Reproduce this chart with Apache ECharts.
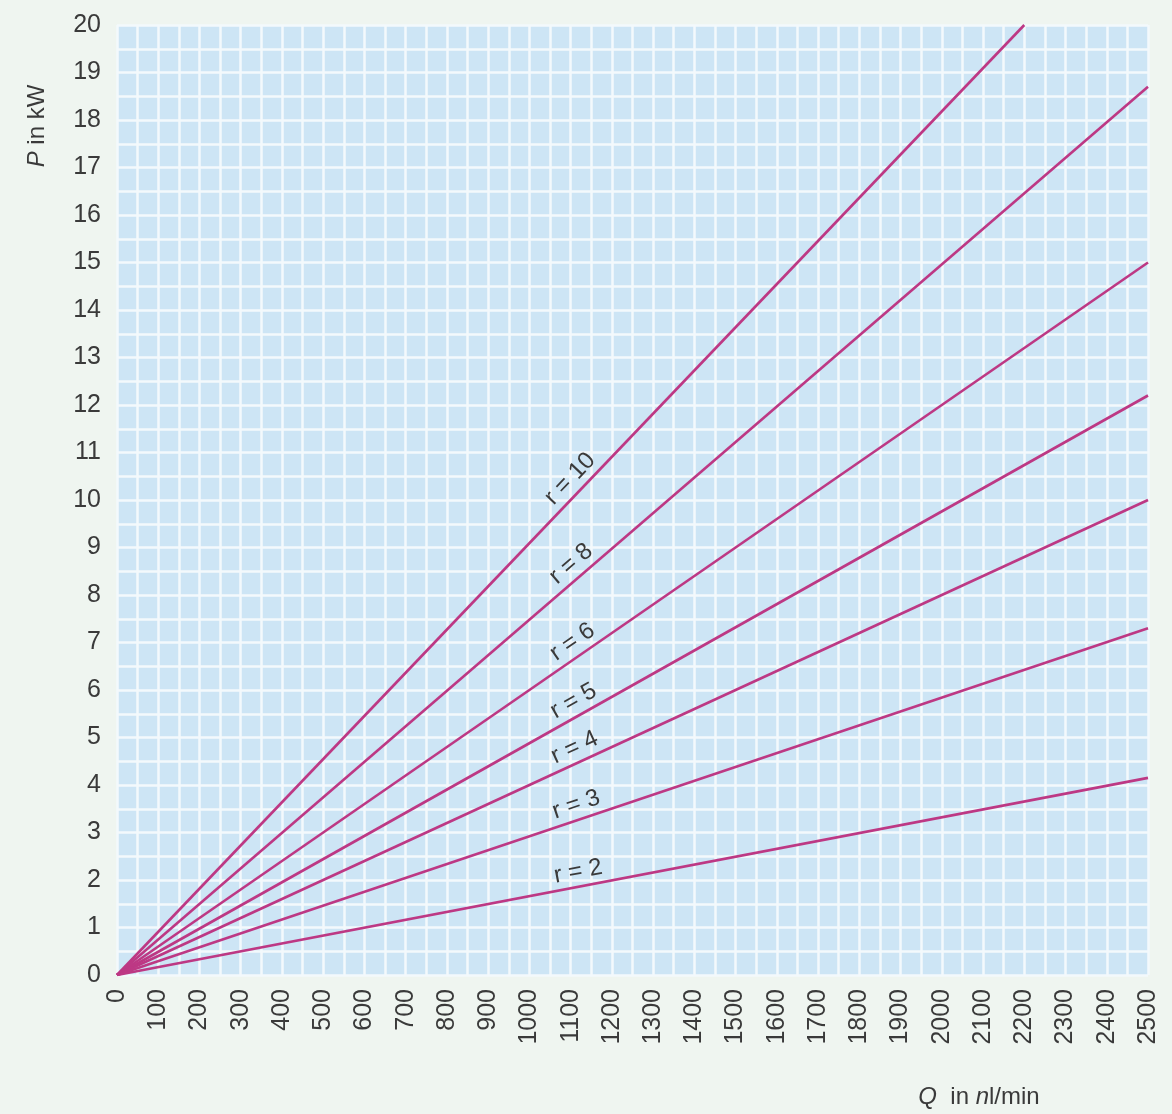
<!DOCTYPE html>
<html>
<head>
<meta charset="utf-8">
<script src="https://cdn.jsdelivr.net/npm/echarts@6/dist/echarts.min.js"></script>
<style>
html,body{margin:0;padding:0;background:#eff5f0;}
#c{width:1172px;height:1114px;}
</style>
</head>
<body>
<div id="c"></div>
<script>
// Data
const ratios = [10, 8, 6, 5, 4, 3, 2];
const labels = ['r = 10', 'r = 8', 'r = 6', 'r = 5', 'r = 4', 'r = 3', 'r = 2'];
const endQ = [2200, 2500, 2500, 2500, 2500, 2500, 2500];
const endP = [20, 18.7, 15.0, 12.2, 10.0, 7.3, 4.15];
const startQ = [0, 0, 0, 0, 0, 0, 0];
const startP = [0, 0, 0, 0, 0, 0, 0];
const xTicks = [0, 2500, 100];
const yTicks = [0, 20, 1];

const FONT = '"Liberation Sans", Arial, sans-serif';
const TEXT = '#3a3a3a';
const LINE = '#bd3884';
const GRIDLINE = '#f3f9fc';

const chart = echarts.init(document.getElementById('c'), null, {renderer: 'canvas'});

const series = ratios.map((r, i) => ({
  type: 'line',
  name: labels[i],
  data: [[startQ[i], startP[i]], [endQ[i], endP[i]]],
  symbol: 'none',
  lineStyle: {color: LINE, width: 2.6},
  silent: true,
  animation: false
}));

const option = {
  backgroundColor: '#eff5f0',
  animation: false,
  grid: {
    left: 117, right: 24, top: 25, bottom: 139,
    show: true, backgroundColor: '#cde5f5', borderWidth: 0
  },
  xAxis: {
    type: 'value', min: xTicks[0], max: xTicks[1], interval: xTicks[2],
    axisLine: {show: false}, axisTick: {show: false},
    axisLabel: {rotate: 90, margin: 14, fontSize: 25, color: TEXT, fontFamily: FONT,
      formatter: v => String(v)},
    splitLine: {show: true, lineStyle: {color: GRIDLINE, width: 2.5}},
    minorTick: {show: false, splitNumber: 2},
    minorSplitLine: {show: true, lineStyle: {color: GRIDLINE, width: 2.5}}
  },
  yAxis: {
    type: 'value', min: yTicks[0], max: yTicks[1], interval: yTicks[2],
    axisLine: {show: false}, axisTick: {show: false},
    axisLabel: {margin: 16, fontSize: 25, color: TEXT, fontFamily: FONT,
      formatter: v => String(v)},
    splitLine: {show: true, lineStyle: {color: GRIDLINE, width: 2.5}},
    minorTick: {show: false, splitNumber: 2},
    minorSplitLine: {show: true, lineStyle: {color: GRIDLINE, width: 2.5}}
  },
  series: series
};
chart.setOption(option);

// Place line labels along each line using the chart's own scales
const LABEL_Q = 1125;
const OFFSET = 15;
const graphics = [];
ratios.forEach((r, i) => {
  const k = (endP[i] - startP[i]) / (endQ[i] - startQ[i]);
  const p0 = chart.convertToPixel({gridIndex: 0}, [startQ[i], startP[i]]);
  const p1 = chart.convertToPixel({gridIndex: 0}, [endQ[i], endP[i]]);
  const pm = chart.convertToPixel({gridIndex: 0}, [LABEL_Q, startP[i] + k * (LABEL_Q - startQ[i])]);
  const theta = Math.atan2(p0[1] - p1[1], p1[0] - p0[0]);
  const ax = pm[0] - OFFSET * Math.sin(theta);
  const ay = pm[1] - OFFSET * Math.cos(theta);
  graphics.push({
    type: 'text', x: ax, y: ay, rotation: theta, silent: true,
    style: {text: labels[i], fontSize: 24, fill: TEXT, fontFamily: FONT, align: 'center', verticalAlign: 'middle'}
  });
});

// Axis names
graphics.push({
  type: 'text', x: 37, y: 126, rotation: Math.PI / 2, silent: true,
  style: {
    text: '{i|P} in kW', align: 'center', verticalAlign: 'middle',
    fontSize: 24, fill: TEXT, fontFamily: FONT,
    rich: {i: {fontStyle: 'italic', fontSize: 24, fill: TEXT, fontFamily: FONT}}
  }
});
graphics.push({
  type: 'text', x: 979, y: 1097, silent: true,
  style: {
    text: '{i|Q}  in {i|n}l/min', align: 'center', verticalAlign: 'middle',
    fontSize: 24, fill: TEXT, fontFamily: FONT,
    rich: {i: {fontStyle: 'italic', fontSize: 24, fill: TEXT, fontFamily: FONT}}
  }
});
chart.setOption({graphic: {elements: graphics}});
</script>
</body>
</html>
